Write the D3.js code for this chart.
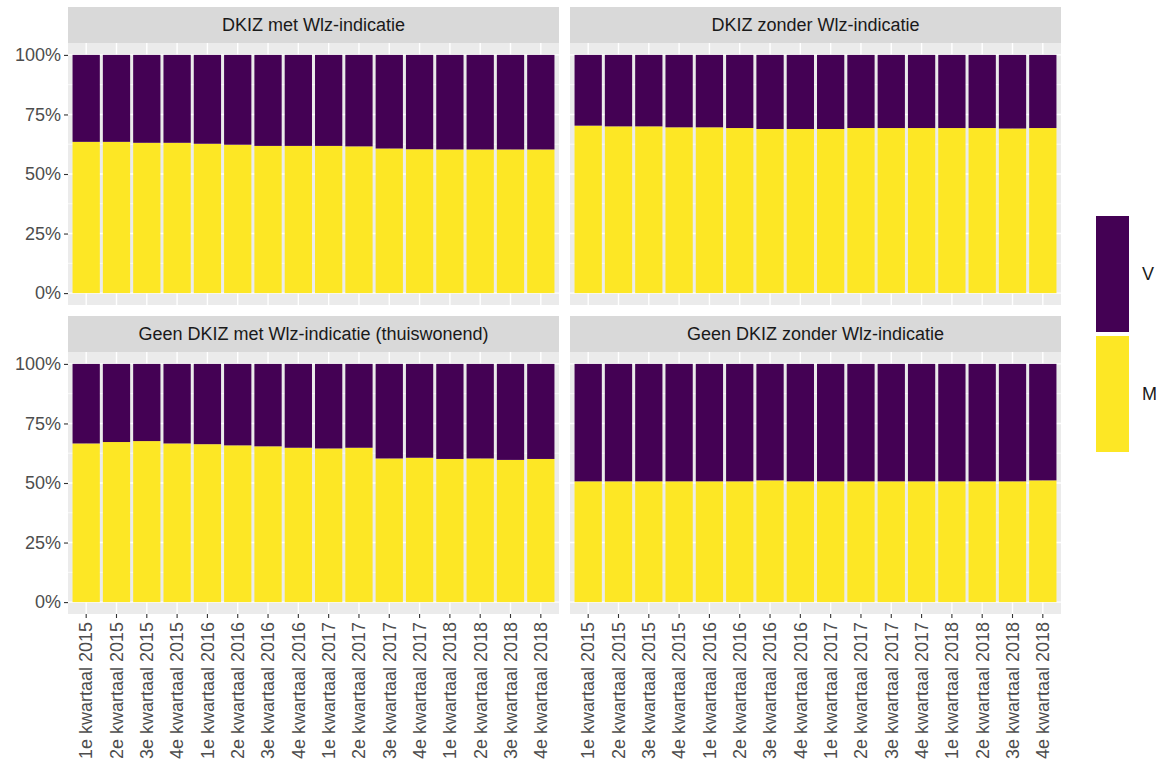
<!DOCTYPE html>
<html>
<head>
<meta charset="utf-8">
<script src="https://cdn.jsdelivr.net/npm/d3@7"></script>
<style>
body { margin: 0; background: #fff; }
text { font-family: "Liberation Sans", Arial, sans-serif; }
</style>
</head>
<body>
<div class="mydiv"></div>
<script>
var width = 1162;
var height = 769;

// categories
var quarters = [
	"1e kwartaal 2015", "2e kwartaal 2015", "3e kwartaal 2015", "4e kwartaal 2015",
	"1e kwartaal 2016", "2e kwartaal 2016", "3e kwartaal 2016", "4e kwartaal 2016",
	"1e kwartaal 2017", "2e kwartaal 2017", "3e kwartaal 2017", "4e kwartaal 2017",
	"1e kwartaal 2018", "2e kwartaal 2018", "3e kwartaal 2018", "4e kwartaal 2018"
];
var panels = [
	"DKIZ met Wlz-indicatie",
	"DKIZ zonder Wlz-indicatie",
	"Geen DKIZ met Wlz-indicatie (thuiswonend)",
	"Geen DKIZ zonder Wlz-indicatie"
];

// share of M per quarter (V = 1 - M)
var shareM1 = [0.635, 0.635, 0.631, 0.631, 0.627, 0.623, 0.618, 0.618, 0.618, 0.616, 0.607, 0.604, 0.603, 0.603, 0.603, 0.603];
var shareM2 = [0.703, 0.700, 0.700, 0.696, 0.696, 0.693, 0.689, 0.689, 0.689, 0.693, 0.693, 0.693, 0.693, 0.693, 0.691, 0.693];
var shareM3 = [0.666, 0.672, 0.676, 0.666, 0.663, 0.658, 0.654, 0.648, 0.645, 0.648, 0.603, 0.606, 0.601, 0.603, 0.597, 0.601];
var shareM4 = [0.507, 0.507, 0.507, 0.507, 0.507, 0.507, 0.511, 0.507, 0.507, 0.507, 0.507, 0.507, 0.507, 0.507, 0.507, 0.511];
var shares = [shareM1, shareM2, shareM3, shareM4];

var yTicks = [0, 0.25, 0.5, 0.75, 1];
var yMinor = [0.125, 0.375, 0.625, 0.875];
var legendKeys = ["V", "M"];
var colours = { V: "#440154", M: "#FDE725" };

var fontSize = "18px";

// panel boxes
var colX = [68, 570];
var panelW = 491;
var rowY = [43, 352];
var panelH = 262;
var stripH = 36;

var svg = d3.select(".mydiv")
	.append("svg")
	.attr("width", width)
	.attr("height", height);

// ggplot style: each bar 0.9 wide, 0.6 expansion on the sides
var step = panelW / (quarters.length - 1 + 1.2);
var x = d3.scaleBand()
	.domain(quarters)
	.range([0.6 * step - step / 2, panelW - 0.6 * step + step / 2])
	.paddingInner(0.1)
	.paddingOuter(0.05);

var y = d3.scaleLinear()
	.domain([-0.05, 1.05])
	.range([panelH, 0]);

panels.forEach(function(name, i) {
	var px = colX[i % 2];
	var py = rowY[Math.floor(i / 2)];
	var g = svg.append("g").attr("transform", "translate(" + px + "," + py + ")");

	// strip
	g.append("rect")
		.attr("x", 0).attr("y", -stripH)
		.attr("width", panelW).attr("height", stripH)
		.attr("fill", "#d9d9d9");
	g.append("text")
		.attr("x", panelW / 2).attr("y", -stripH / 2)
		.attr("dy", "0.35em")
		.attr("text-anchor", "middle")
		.style("font-size", fontSize)
		.style("fill", "#1a1a1a")
		.text(name);

	// panel background and grid
	g.append("rect")
		.attr("width", panelW).attr("height", panelH)
		.attr("fill", "#ebebeb");
	g.selectAll(".minor")
		.data(yMinor)
		.enter()
		.append("line")
		.attr("x1", 0).attr("x2", panelW)
		.attr("y1", function(d) { return y(d); })
		.attr("y2", function(d) { return y(d); })
		.attr("stroke", "#fff").attr("stroke-width", 0.7);
	g.selectAll(".major")
		.data(yTicks)
		.enter()
		.append("line")
		.attr("x1", 0).attr("x2", panelW)
		.attr("y1", function(d) { return y(d); })
		.attr("y2", function(d) { return y(d); })
		.attr("stroke", "#fff").attr("stroke-width", 1.4);
	g.selectAll(".vgrid")
		.data(quarters)
		.enter()
		.append("line")
		.attr("x1", function(d) { return x(d) + x.bandwidth() / 2; })
		.attr("x2", function(d) { return x(d) + x.bandwidth() / 2; })
		.attr("y1", 0).attr("y2", panelH)
		.attr("stroke", "#fff").attr("stroke-width", 1.4);

	// stacked bars
	var rows = quarters.map(function(q, k) {
		return { q: q, M: shares[i][k], V: 1 - shares[i][k] };
	});
	g.selectAll(".barM")
		.data(rows)
		.enter()
		.append("rect")
		.attr("x", function(d) { return x(d.q); })
		.attr("width", x.bandwidth())
		.attr("y", function(d) { return y(d.M); })
		.attr("height", function(d) { return y(0) - y(d.M); })
		.attr("fill", colours.M);
	g.selectAll(".barV")
		.data(rows)
		.enter()
		.append("rect")
		.attr("x", function(d) { return x(d.q); })
		.attr("width", x.bandwidth())
		.attr("y", function(d) { return y(1); })
		.attr("height", function(d) { return y(d.M) - y(1); })
		.attr("fill", colours.V);

	// y axis on left column
	if (i % 2 == 0) {
		var ya = g.append("g")
			.call(d3.axisLeft(y).tickValues(yTicks).tickSize(4).tickPadding(3)
				.tickFormat(function(d) { return Math.round(d * 100) + "%"; }));
		ya.select(".domain").remove();
		ya.selectAll("line").attr("stroke", "#333").attr("stroke-width", 1.1);
		ya.selectAll("text")
			.style("font-size", fontSize)
			.style("fill", "#4d4d4d")
			.style("font-family", "Liberation Sans, Arial, sans-serif");
	}

	// x axis on bottom row
	if (i >= 2) {
		var xa = g.append("g")
			.attr("transform", "translate(0," + panelH + ")")
			.call(d3.axisBottom(x).tickSize(4).tickPadding(3));
		xa.select(".domain").remove();
		xa.selectAll("line").attr("stroke", "#333").attr("stroke-width", 1.1);
		xa.selectAll("text")
			.attr("transform", "rotate(-90)")
			.attr("text-anchor", "end")
			.attr("x", -8)
			.attr("y", 0)
			.attr("dy", "0.35em")
			.style("font-size", fontSize)
			.style("fill", "#4d4d4d")
			.style("font-family", "Liberation Sans, Arial, sans-serif");
	}
});

// legend
var legend = svg.append("g").attr("transform", "translate(1096,216)");
legend.selectAll("rect")
	.data(legendKeys)
	.enter()
	.append("rect")
	.attr("x", 0)
	.attr("y", function(d, k) { return k * 120; })
	.attr("width", 33)
	.attr("height", 116)
	.attr("fill", function(d) { return colours[d]; });
legend.selectAll("text")
	.data(legendKeys)
	.enter()
	.append("text")
	.attr("x", 46)
	.attr("y", function(d, k) { return k * 120 + 58; })
	.attr("dy", "0.35em")
	.style("font-size", fontSize)
	.style("fill", "#1a1a1a")
	.text(function(d) { return d; });
</script>
</body>
</html>
